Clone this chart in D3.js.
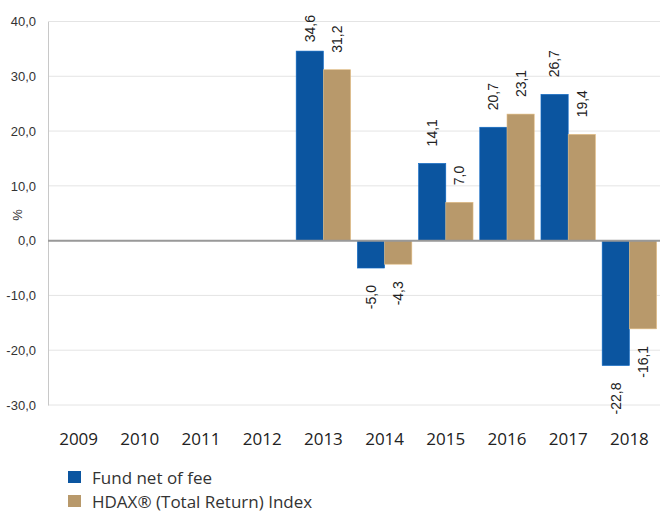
<!DOCTYPE html>
<html>
<head>
  <meta charset="utf-8">
  <title>Fund vs HDAX</title>
  <script src="https://d3js.org/d3.v7.min.js"></script>
  <style>
    body { margin: 0; background: #fff; }
    text { font-family: "Liberation Sans", Arial, sans-serif; }
  </style>
</head>
<body>
  <svg id="chart"></svg>
  <script>
    // chart data
    let years = ["2009", "2010", "2011", "2012", "2013", "2014", "2015", "2016", "2017", "2018"];
    let fundValues = [null, null, null, null, 34.6, -5.0, 14.1, 20.7, 26.7, -22.8];
    let indexValues = [null, null, null, null, 31.2, -4.3, 7.0, 23.1, 19.4, -16.1];
    let seriesNames = ["Fund net of fee", "HDAX\u00ae (Total Return) Index"];
    let yTicks = [-30, -20, -10, 0, 10, 20, 30, 40];

    let colors = ["#0b55a0", "#b8996b"];
    let fmt = function(v) { return v.toFixed(1).replace(".", ","); };

    let width = 660, height = 511;
    let svg = d3.select("#chart").attr("width", width).attr("height", height);

    let x = d3.scaleBand().domain(years).range([48, 660]).paddingInner(0.11).paddingOuter(0.055);
    let xs = d3.scaleBand().domain([0, 1]).range([0, x.bandwidth()]);
    let y = d3.scaleLinear().domain([-30, 40]).range([405, 21.5]);

    // grid lines
    svg.append("g")
      .selectAll("line")
      .data(yTicks)
      .enter()
      .append("line")
      .attr("x1", 48).attr("x2", 660)
      .attr("y1", function(d) { return y(d); })
      .attr("y2", function(d) { return y(d); })
      .attr("stroke", "#e4e4e4")
      .attr("stroke-width", 1);

    // left axis
    let yAxis = svg.append("g")
      .attr("transform", "translate(48,0)")
      .call(d3.axisLeft(y).tickValues(yTicks).tickSize(0).tickPadding(12).tickFormat(fmt));
    yAxis.select(".domain").attr("stroke", "#c8c8c8");
    yAxis.selectAll("text").style("font-size", "13px").attr("fill", "#333");

    svg.append("text")
      .attr("transform", "translate(17,215) rotate(-90)")
      .attr("text-anchor", "middle")
      .attr("dy", "0.35em")
      .style("font-size", "13px")
      .attr("fill", "#333")
      .text("%");

    // bottom axis labels
    let xAxis = svg.append("g")
      .attr("transform", "translate(0,405)")
      .call(d3.axisBottom(x).tickSize(0).tickPadding(28));
    xAxis.select(".domain").remove();
    xAxis.selectAll("text")
      .style("font-family", "'Open Sans', sans-serif")
      .style("font-size", "17px")
      .attr("fill", "#222");

    // bars
    let rows = [];
    years.forEach(function(yr, i) {
      [fundValues[i], indexValues[i]].forEach(function(v, s) {
        if (v !== null) rows.push({year: yr, s: s, v: v});
      });
    });

    svg.append("g")
      .selectAll("rect")
      .data(rows)
      .enter()
      .append("rect")
      .attr("x", function(d) { return x(d.year) + xs(d.s); })
      .attr("width", xs.bandwidth())
      .attr("y", function(d) { return Math.min(y(d.v), y(0)); })
      .attr("height", function(d) { return Math.abs(y(d.v) - y(0)); })
      .attr("fill", function(d) { return colors[d.s]; })
      .attr("stroke", function(d) { return d3.color(colors[d.s]).brighter(0.6); })
      .attr("stroke-width", 0.6);

    // zero line
    svg.append("line")
      .attr("x1", 48).attr("x2", 660)
      .attr("y1", y(0)).attr("y2", y(0))
      .attr("stroke", "#999")
      .attr("stroke-width", 2);

    // value labels, rotated; kept inside the top of the picture
    let labels = svg.append("g")
      .selectAll("text")
      .data(rows)
      .enter()
      .append("text")
      .attr("text-anchor", function(d) { return d.v >= 0 ? "start" : "end"; })
      .attr("dy", "0.35em")
      .style("font-size", "14px")
      .attr("fill", "#222")
      .text(function(d) { return fmt(d.v); });

    labels.attr("transform", function(d) {
      let len = this.getComputedTextLength();
      let cx = x(d.year) + xs(d.s) + xs.bandwidth() / 2;
      let cy = d.v >= 0 ? Math.max(y(d.v) - 17, 15 + len) : y(d.v) + 17;
      return "translate(" + cx + "," + cy + ") rotate(-90)";
    });

    // legend
    let legend = svg.append("g")
      .selectAll("g")
      .data(seriesNames)
      .enter()
      .append("g")
      .attr("transform", function(d, i) { return "translate(68," + (471 + i * 24) + ")"; });

    legend.append("rect")
      .attr("width", 13).attr("height", 12)
      .attr("fill", function(d, i) { return colors[i]; });

    legend.append("text")
      .attr("x", 24).attr("y", 12.5)
      .style("font-family", "'Open Sans', sans-serif")
      .style("font-size", "17px")
      .attr("fill", "#333")
      .text(function(d) { return d; });
  </script>
</body>
</html>
